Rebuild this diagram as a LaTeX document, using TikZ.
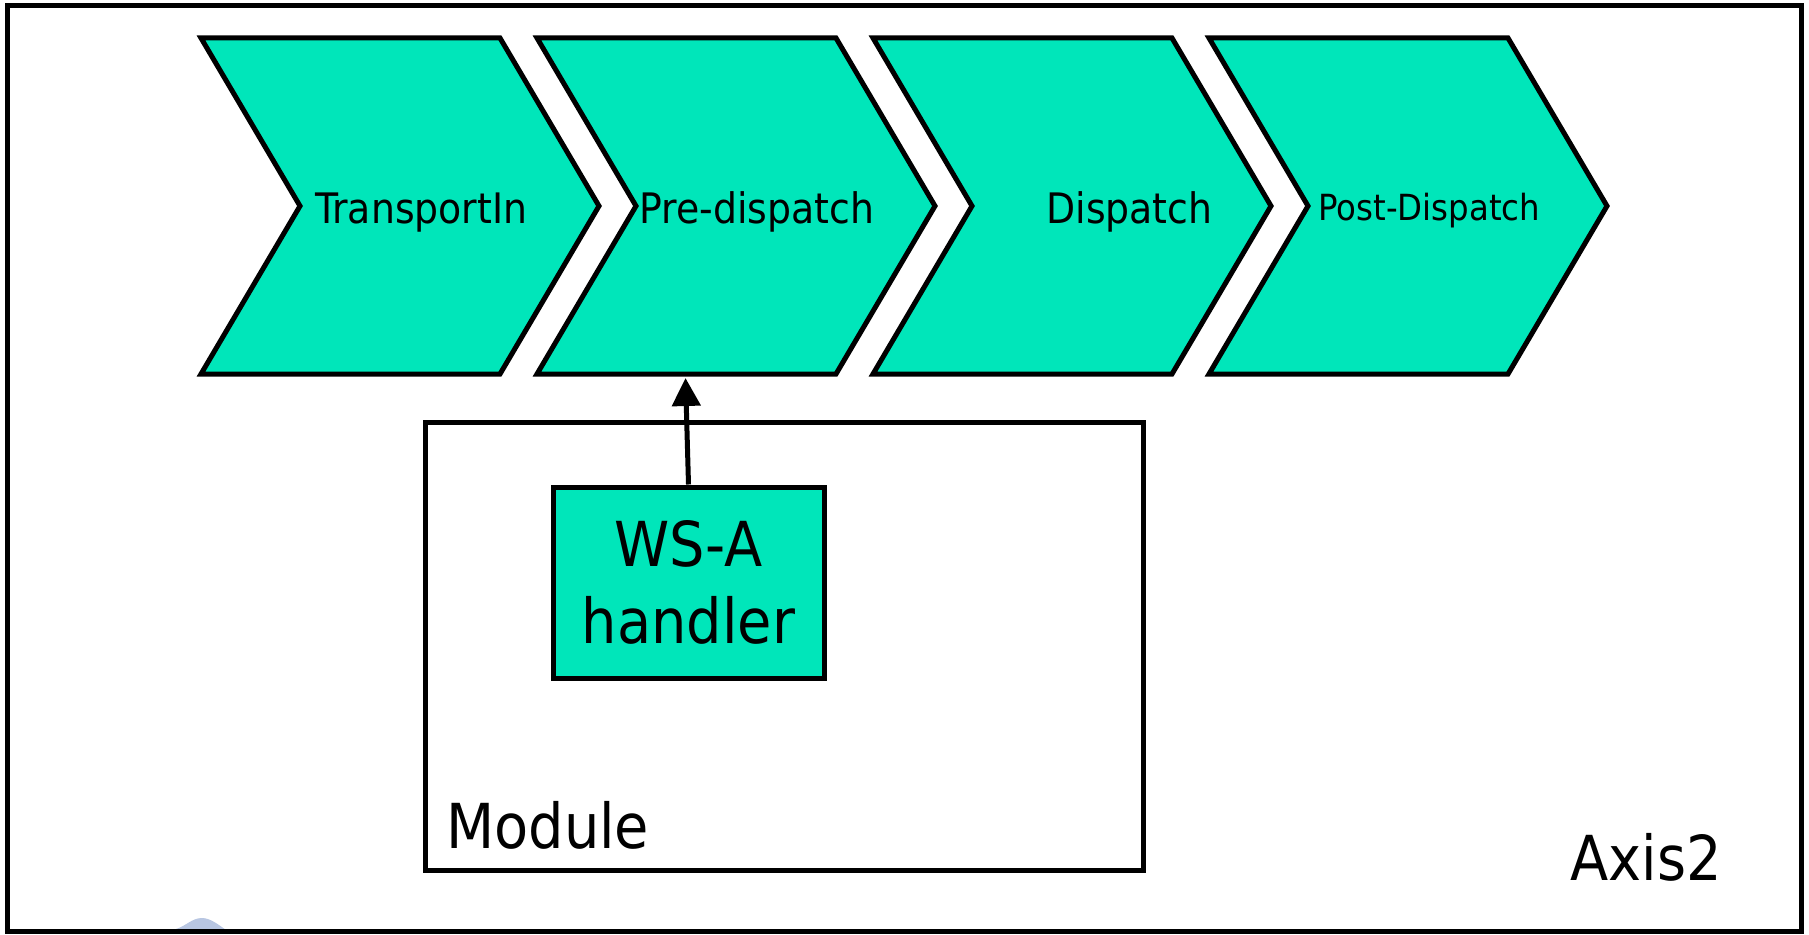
\documentclass[tikz,border=0pt]{standalone}
\usepackage{fontspec}
\setmainfont{DejaVu Sans Condensed}
\usepackage{tikz}
\usetikzlibrary{calc}
\usetikzlibrary{arrows.meta}
\definecolor{vertEtape}{RGB}{0,230,186}
\definecolor{bleuLogo}{RGB}{184,198,226}

\begin{document}
\begin{tikzpicture}[x=1pt,y=-1pt,line width=5pt,
	etape/.style={fill=vertEtape,draw=black,line join=miter},
	phaselabel/.style={anchor=base west,inner sep=0pt,font=\fontsize{42}{50}\selectfont},
	grandlabel/.style={inner sep=0pt,font=\fontsize{62}{77}\selectfont}]
	\def\xA{201}
	\def\pas{336}
	\def\corps{299}
	\def\pointe{99}
	\def\haut{38}
	\def\demi{168}
\useasboundingbox (0,0) rectangle (1809,934);

%Morceau de logo sous le cadre
\fill[bleuLogo] (163,932) -- (176,929) .. controls (186,926) and (192,918) .. (202,918) .. controls (211,918) and (220,926) .. (229,932) -- cycle;

%Cadre Axis2
\draw (7,6) rectangle (1801,931);

%Phases (chevrons)
\foreach \i in {0,...,3}{
	\filldraw[etape] ({\xA+\i*\pas},\haut) -- ++(\corps,0) -- ++(\pointe,\demi) -- ++(-\pointe,\demi) -- ++(-\corps,0) -- ++(\pointe,-\demi) -- cycle;
}

%Noms des phases
\node[phaselabel] (tin) at (313,223) {TransportIn};
\node[phaselabel] (pre) at (637,223) {Pre-dispatch};
\node[phaselabel] (disp) at (1044,223) {Dispatch};
\node[phaselabel,font=\fontsize{36}{43}\selectfont] (post) at (1316,220) {Post-Dispatch};
\coordinate (pdin) at (685.5,378);

%Module
\node[draw,minimum width=718,minimum height=448] (module) at (784,646) {};
\node[grandlabel,anchor=base west] (modlabel) at (444,848) {Module};

%Handler
\node[grandlabel,draw,fill=vertEtape,minimum width=271,minimum height=191,align=center] (wsa) at (688.5,582.5) {WS-A\\handler};
\draw[-{Triangle[width=28pt,length=28pt]}] (wsa.north) -- (pdin);

\node[grandlabel,anchor=base west] (axis) at (1568,880) {Axis2};

\end{tikzpicture}
\end{document}
